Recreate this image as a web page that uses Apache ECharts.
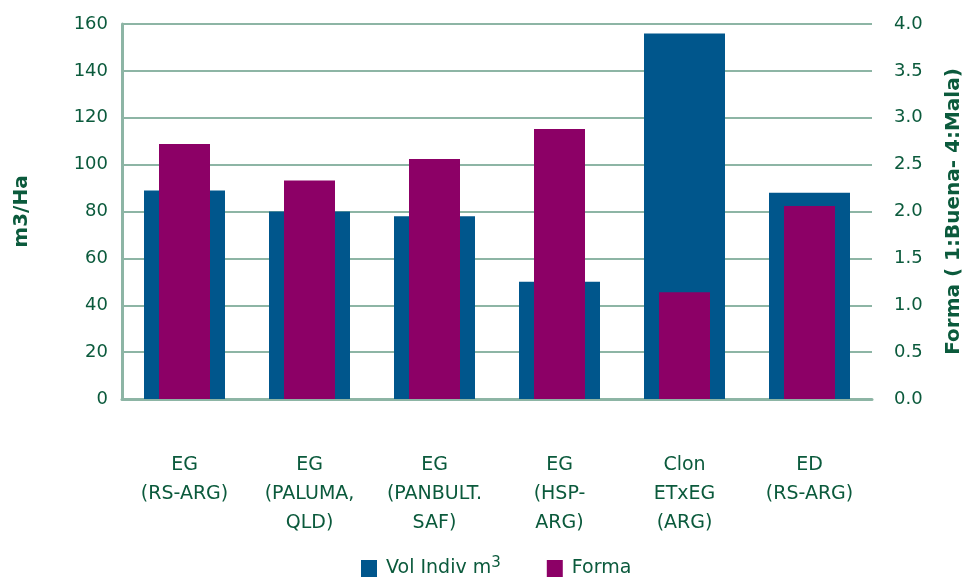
<!DOCTYPE html>
<html>
<head>
<meta charset="utf-8">
<script src="https://cdn.jsdelivr.net/npm/echarts@6/dist/echarts.min.js"></script>
<style>
  html, body { margin: 0; padding: 0; background: #fff; }
  #chart { width: 972px; height: 580px; }
</style>
</head>
<body>
<div id="chart"></div>
<script>
// datos
var categorias = ['EG\n(RS-ARG)', 'EG\n(PALUMA,\nQLD)', 'EG\n(PANBULT.\nSAF)', 'EG\n(HSP-\nARG)', 'Clon\nETxEG\n(ARG)', 'ED\n(RS-ARG)'];
var volIndiv = [89, 80, 78, 50, 156, 88];
var forma = [2.72, 2.33, 2.56, 2.88, 1.14, 2.06];
var ticksIzq = [0, 160, 20];
var ticksDer = [0, 4, 0.5];

var verde = '#0b5a3c';
var gris = '#8db5a5';
var fuente = 'DejaVu Sans';

var myChart = echarts.init(document.getElementById('chart'));

var option = {
  backgroundColor: '#fff',
  animation: false,
  textStyle: { fontFamily: fuente },
  grid: { left: 122, right: 97, top: 24, bottom: 181 },
  legend: {
    bottom: 2,
    left: 361,
    padding: 0,
    itemWidth: 16,
    itemHeight: 17,
    itemGap: 46,
    icon: 'rect',
    data: ['Vol Indiv m3', 'Forma'],
    formatter: function (name) {
      if (name === 'Vol Indiv m3') return 'Vol Indiv m{sup|3}';
      return name;
    },
    textStyle: {
      color: verde, fontSize: 19, fontFamily: fuente, padding: [0, 0, 0, 4],
      rich: { sup: { fontSize: 15, verticalAlign: 'bottom', padding: [0, 0, 10, 0], color: verde, fontFamily: fuente } }
    }
  },
  xAxis: [{
    type: 'category',
    data: categorias,
    axisLine: { lineStyle: { color: gris, width: 3 } },
    axisTick: { inside: true, length: 9, lineStyle: { color: gris, width: 2 } },
    axisLabel: { color: verde, fontSize: 19, margin: 52, lineHeight: 29, interval: 0 }
  }, {
    type: 'category',
    data: categorias,
    show: false
  }],
  yAxis: [{
    type: 'value',
    min: ticksIzq[0], max: ticksIzq[1], interval: ticksIzq[2],
    name: 'm3/Ha',
    nameLocation: 'middle',
    nameRotate: 90,
    nameGap: 90,
    nameTextStyle: { color: verde, fontSize: 20, fontWeight: 'bold' },
    axisLine: { show: true, lineStyle: { color: gris, width: 3 } },
    axisTick: { show: false },
    axisLabel: { color: verde, fontSize: 18, margin: 14 },
    splitLine: { lineStyle: { color: gris, width: 2 } }
  }, {
    type: 'value',
    min: ticksDer[0], max: ticksDer[1], interval: ticksDer[2],
    name: 'Forma ( 1:Buena- 4:Mala)',
    nameLocation: 'middle',
    nameRotate: 90,
    nameGap: 72,
    nameTextStyle: { color: verde, fontSize: 20, fontWeight: 'bold' },
    axisLine: { show: false },
    axisTick: { show: false },
    axisLabel: {
      color: verde, fontSize: 18, margin: 22,
      formatter: function (v) { return v.toFixed(1); }
    },
    splitLine: { show: false }
  }],
  series: [{
    name: 'Vol Indiv m3',
    type: 'bar',
    xAxisIndex: 0,
    yAxisIndex: 0,
    barWidth: 81,
    itemStyle: { color: '#00568c' },
    data: volIndiv
  }, {
    name: 'Forma',
    type: 'bar',
    xAxisIndex: 1,
    yAxisIndex: 1,
    barWidth: 51,
    itemStyle: { color: '#8c0066' },
    data: forma
  }]
};

myChart.setOption(option);
</script>
</body>
</html>
